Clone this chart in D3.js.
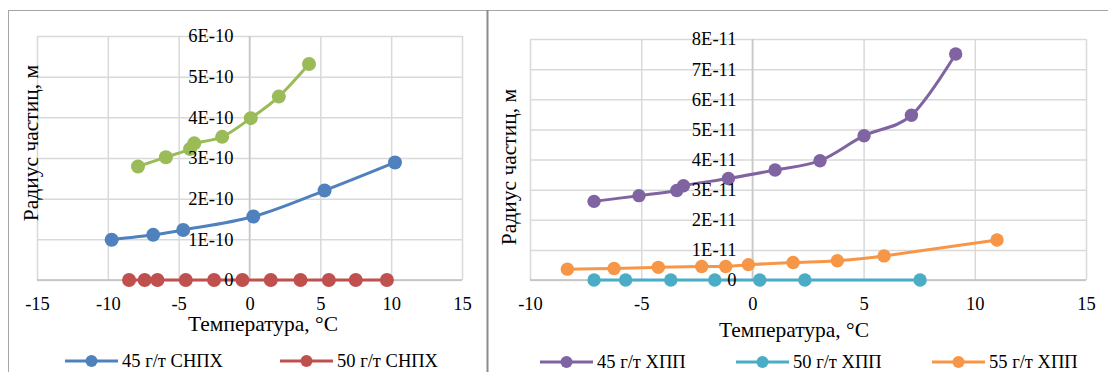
<!DOCTYPE html>
<html>
<head>
<meta charset="utf-8">
<script src="https://cdn.jsdelivr.net/npm/d3@7/dist/d3.min.js"></script>
<style>
  html, body { margin: 0; padding: 0; background: #fff; }
  svg { display: block; font-family: "Liberation Serif", "Times New Roman", serif; }
</style>
</head>
<body>
<svg id="chart" width="1108" height="372"></svg>
<script>
// Left panel: СНПХ
const leftXTicks = [-15, -10, -5, 0, 5, 10, 15];
const leftYTicks = [0, 1e-10, 2e-10, 3e-10, 4e-10, 5e-10, 6e-10];
const leftYLabels = ["0", "1E-10", "2E-10", "3E-10", "4E-10", "5E-10", "6E-10"];

const snpx45Temp = [-9.73, -6.8, -4.68, 0.27, 5.3, 10.27];
const snpx45Rad = [0.99e-10, 1.11e-10, 1.23e-10, 1.56e-10, 2.2e-10, 2.89e-10];
const snpx50Temp = [-8.5, -7.4, -6.5, -4.5, -2.5, -0.5, 1.5, 3.6, 5.6, 7.5, 9.7];
const snpx50Rad = [0, 0, 0, 0, 0, 0, 0, 0, 0, 0, 0];
const snpx55Temp = [-7.87, -5.9, -4.2, -3.9, -1.93, 0.09, 2.07, 4.2];
const snpx55Rad = [2.79e-10, 3.02e-10, 3.22e-10, 3.36e-10, 3.52e-10, 3.98e-10, 4.51e-10, 5.31e-10];

// Right panel: ХПП
const rightXTicks = [-10, -5, 0, 5, 10, 15];
const rightYTicks = [0, 1e-11, 2e-11, 3e-11, 4e-11, 5e-11, 6e-11, 7e-11, 8e-11];
const rightYLabels = ["0", "1E-11", "2E-11", "3E-11", "4E-11", "5E-11", "6E-11", "7E-11", "8E-11"];

const hpp45Temp = [-7.12, -5.1, -3.4, -3.1, -1.08, 1.02, 3.04, 5.02, 7.15, 9.14];
const hpp45Rad = [2.61e-11, 2.8e-11, 2.97e-11, 3.13e-11, 3.37e-11, 3.65e-11, 3.96e-11, 4.79e-11, 5.47e-11, 7.5e-11];
const hpp50Temp = [-7.12, -5.7, -3.67, -1.69, 0.33, 2.36, 7.54];
const hpp50Rad = [0, 0, 0, 0, 0, 0, 0];
const hpp55Temp = [-8.32, -6.22, -4.23, -2.28, -1.2, -0.18, 1.83, 3.82, 5.92, 11.0];
const hpp55Rad = [0.36e-11, 0.38e-11, 0.42e-11, 0.45e-11, 0.45e-11, 0.51e-11, 0.58e-11, 0.64e-11, 0.8e-11, 1.33e-11];

const xTitle = "Температура, °C";
const yTitle = "Радиус частиц, м";

const zip = (xs, ys) => xs.map((x, i) => ({ x, y: ys[i] }));

const svg = d3.select("#chart");

// рамки панелей
svg.append("rect").attr("x", 8.5).attr("y", 10.5).attr("width", 479).attr("height", 400)
  .attr("fill", "none").attr("stroke", "#a6a6a6").attr("stroke-width", 1);
svg.append("rect").attr("x", 487.5).attr("y", 10.5).attr("width", 700).attr("height", 400)
  .attr("fill", "none").attr("stroke", "#a6a6a6").attr("stroke-width", 1);
svg.append("line").attr("x1", 487.5).attr("x2", 487.5).attr("y1", 10).attr("y2", 372)
  .attr("stroke", "#8c8c8c").attr("stroke-width", 2);

function drawPanel(p) {
  const x = d3.scaleLinear().domain(p.xDomain).range(p.xRange);
  const y = d3.scaleLinear().domain(p.yDomain).range(p.yRange);
  const g = svg.append("g");

  // сетка
  g.append("g")
    .attr("transform", `translate(0,${p.yRange[0]})`)
    .call(d3.axisBottom(x).tickValues(p.xTicks).tickSize(-(p.yRange[0] - p.yRange[1])).tickFormat(""))
    .call(s => s.select(".domain").remove())
    .call(s => s.selectAll("line").attr("stroke", "#d9d9d9").attr("stroke-width", 1.5));
  g.append("g")
    .attr("transform", `translate(${p.xRange[0]},0)`)
    .call(d3.axisLeft(y).tickValues(p.yTicks).tickSize(-(p.xRange[1] - p.xRange[0])).tickFormat(""))
    .call(s => s.select(".domain").remove())
    .call(s => s.selectAll("line").attr("stroke", "#d9d9d9").attr("stroke-width", 1.5));

  // оси через ноль
  g.append("line").attr("x1", x(0)).attr("x2", x(0)).attr("y1", y(p.yDomain[0])).attr("y2", y(p.yDomain[1]))
    .attr("stroke", "#c8c8c8").attr("stroke-width", 1.5);
  g.append("line").attr("x1", p.xRange[0]).attr("x2", p.xRange[1]).attr("y1", y(0)).attr("y2", y(0))
    .attr("stroke", "#bfbfbf").attr("stroke-width", 1.5);

  // серии
  const line = d3.line().x(d => x(d.x)).y(d => y(d.y)).curve(d3.curveCardinal.tension(0));
  p.series.forEach(s => {
    const data = zip(s.t, s.r);
    g.append("path").datum(data)
      .attr("fill", "none").attr("stroke", s.color).attr("stroke-width", 3)
      .attr("d", line);
    g.selectAll(null).data(data).enter().append("circle")
      .attr("cx", d => x(d.x)).attr("cy", d => y(d.y)).attr("r", p.markerR)
      .attr("fill", s.color);
  });

  // подписи осей
  const xAxis = g.append("g")
    .attr("transform", `translate(0,${p.yRange[0]})`)
    .call(d3.axisBottom(x).tickValues(p.xTicks).tickSize(0).tickPadding(17).tickFormat(d3.format("d")));
  xAxis.select(".domain").remove();
  xAxis.selectAll("text").attr("font-size", 18.5).attr("fill", "#000")
    .attr("font-family", "Liberation Serif").text(d => d < 0 ? "-" + Math.abs(d) : d);

  const yAxis = g.append("g")
    .attr("transform", `translate(${x(0)},0)`)
    .call(d3.axisLeft(y).tickValues(p.yTicks).tickSize(0).tickPadding(16)
      .tickFormat((d, i) => p.yLabels[i]));
  yAxis.select(".domain").remove();
  yAxis.selectAll("text").attr("font-size", 18.5).attr("fill", "#000")
    .attr("font-family", "Liberation Serif");

  // заголовки осей
  g.append("text").attr("x", p.xTitlePos[0]).attr("y", p.xTitlePos[1])
    .attr("text-anchor", "middle").attr("font-size", 21.5).text(xTitle);
  g.append("text")
    .attr("transform", `translate(${p.yTitlePos[0]},${p.yTitlePos[1]}) rotate(-90)`)
    .attr("text-anchor", "middle").attr("dy", "0.35em").attr("font-size", 21.5).text(yTitle);

  // легенда
  p.legend.forEach(l => {
    const lg = g.append("g").attr("transform", `translate(${l.x},${p.legendY})`);
    lg.append("line").attr("x1", 0).attr("x2", 53).attr("y1", 0).attr("y2", 0)
      .attr("stroke", l.color).attr("stroke-width", 3);
    lg.append("circle").attr("cx", 26.5).attr("cy", 0).attr("r", 6).attr("fill", l.color);
    lg.append("text").attr("x", 57).attr("y", 0).attr("dy", "0.35em")
      .attr("font-size", 18.5).text(l.name);
  });
}

drawPanel({
  xDomain: [-15, 15], xRange: [37, 462],
  yDomain: [0, 6e-10], yRange: [280, 36],
  xTicks: leftXTicks, yTicks: leftYTicks, yLabels: leftYLabels,
  markerR: 7,
  series: [
    { t: snpx45Temp, r: snpx45Rad, color: "#4f81bd" },
    { t: snpx50Temp, r: snpx50Rad, color: "#c0504d" },
    { t: snpx55Temp, r: snpx55Rad, color: "#9bbb59" }
  ],
  xTitlePos: [263, 331], yTitlePos: [30, 143],
  legendY: 361,
  legend: [
    { x: 65, name: "45 г/т СНПХ", color: "#4f81bd" },
    { x: 280, name: "50 г/т СНПХ", color: "#c0504d" }
  ]
});

drawPanel({
  xDomain: [-10, 15], xRange: [530, 1086],
  yDomain: [0, 8e-11], yRange: [280, 39],
  xTicks: rightXTicks, yTicks: rightYTicks, yLabels: rightYLabels,
  markerR: 6.7,
  series: [
    { t: hpp45Temp, r: hpp45Rad, color: "#8064a2" },
    { t: hpp50Temp, r: hpp50Rad, color: "#4bacc6" },
    { t: hpp55Temp, r: hpp55Rad, color: "#f79646" }
  ],
  xTitlePos: [794, 337], yTitlePos: [508, 167],
  legendY: 362,
  legend: [
    { x: 540, name: "45 г/т ХПП", color: "#8064a2" },
    { x: 736, name: "50 г/т ХПП", color: "#4bacc6" },
    { x: 932, name: "55 г/т ХПП", color: "#f79646" }
  ]
});
</script>
</body>
</html>
